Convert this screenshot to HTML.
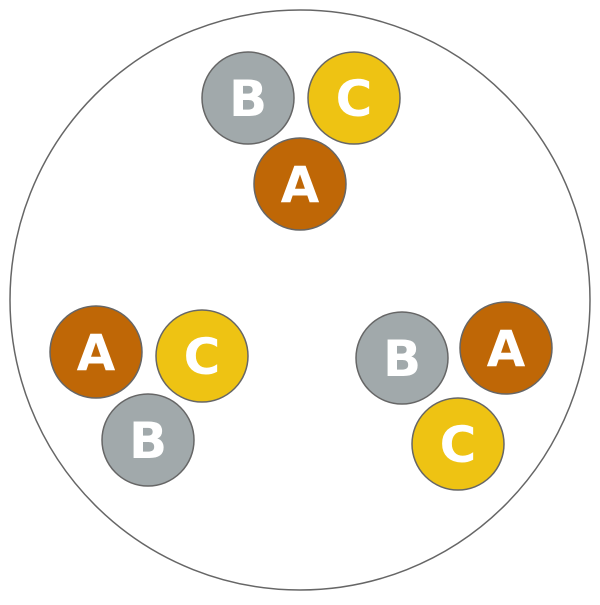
<!DOCTYPE html>
<html><head><meta charset="utf-8"><style>html,body{margin:0;padding:0;background:#fff}</style></head>
<body>
<svg width="600" height="600" xmlns="http://www.w3.org/2000/svg" font-family="DejaVu Sans, Liberation Sans, sans-serif" font-weight="bold" font-size="50" text-anchor="middle">
<circle cx="300" cy="300" r="290" fill="#fff" stroke="#666" stroke-width="1.5"/>
<g stroke="#666" stroke-width="1.5">
<circle cx="248" cy="98" r="46" fill="#a1a9ab"/>
<circle cx="354" cy="98" r="46" fill="#eec313"/>
<circle cx="300" cy="184" r="46" fill="#bf6706"/>
<circle cx="96" cy="352" r="46" fill="#bf6706"/>
<circle cx="202" cy="356" r="46" fill="#eec313"/>
<circle cx="148" cy="440" r="46" fill="#a1a9ab"/>
<circle cx="402" cy="358" r="46" fill="#a1a9ab"/>
<circle cx="506" cy="348" r="46" fill="#bf6706"/>
<circle cx="458" cy="444" r="46" fill="#eec313"/>
</g>
<g fill="#fff">
<text x="248" y="116">B</text>
<text x="354" y="116">C</text>
<text x="300" y="202">A</text>
<text x="96" y="370">A</text>
<text x="202" y="374">C</text>
<text x="148" y="458">B</text>
<text x="402" y="376">B</text>
<text x="506" y="366">A</text>
<text x="458" y="462">C</text>
</g>
</svg>
</body></html>
